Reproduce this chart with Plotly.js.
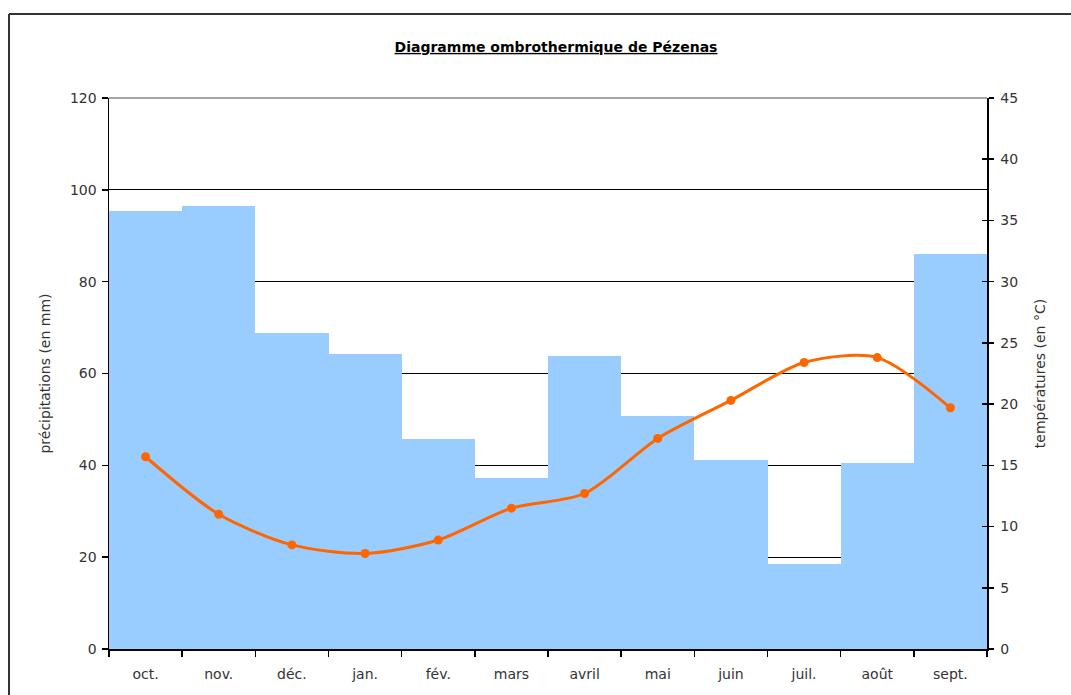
<!DOCTYPE html>
<html>
<head>
<meta charset="utf-8">
<script src="https://cdn.plot.ly/plotly-3.0.1.min.js"></script>
<style>html,body{margin:0;padding:0;background:#fff;}#chart{width:1071px;height:695px;}</style>
</head>
<body>
<div id="chart"></div>
<script>
const months = ["oct.","nov.","déc.","jan.","fév.","mars","avril","mai","juin","juil.","août","sept."];
const precipitations = [95.4, 96.5, 68.8, 64.2, 45.7, 37.2, 63.8, 50.7, 41.2, 18.5, 40.5, 86.0];
const temperatures = [15.7, 11.0, 8.5, 7.8, 8.9, 11.5, 12.7, 17.2, 20.3, 23.4, 23.8, 19.7];
const leftTicks = [0, 20, 40, 60, 80, 100, 120];
const rightTicks = [0, 5, 10, 15, 20, 25, 30, 35, 40, 45];

const FONT = "DejaVu Sans, sans-serif";
const W = 1071, H = 695;
const L = 109, R = 84, T = 98, B = 46;
const pw = W - L - R, ph = H - T - B;
const px = x => (x - L) / pw;
const py = y => (H - B - y) / ph;

const traces = [
  {
    type: "bar", x: months, y: precipitations, yaxis: "y",
    marker: {color: "#99CCFF", line: {width: 0}},
    hoverinfo: "x+y", name: "précipitations"
  },
  {
    type: "scatter", mode: "lines+markers", x: months, y: temperatures, yaxis: "y2",
    line: {color: "#FF6600", width: 3, shape: "spline", smoothing: 0.8},
    marker: {color: "#FF6600", size: 9},
    name: "températures"
  },
  {
    type: "scatter", x: [months[0]], y: [0], yaxis: "y3", mode: "markers",
    marker: {opacity: 0}, hoverinfo: "skip", showlegend: false
  }
];

const layout = {
  width: W, height: H,
  margin: {l: L, r: R, t: T, b: B, pad: 0},
  paper_bgcolor: "#fff", plot_bgcolor: "#fff",
  showlegend: false,
  bargap: 0,
  font: {family: FONT, size: 14, color: "#333"},
  title: {
    text: "<b><u>Diagramme ombrothermique de Pézenas</u></b>",
    font: {family: FONT, size: 14, color: "#000"},
    x: px(556), xanchor: "center", xref: "paper", y: 1 - 47 / H, yanchor: "middle"
  },
  xaxis: {
    type: "category", tickson: "boundaries", ticks: "outside", ticklen: 6,
    tickcolor: "#000", tickwidth: 1.5,
    showline: true, linecolor: "#000", linewidth: 1.5,
    showgrid: false, zeroline: false,
    ticklabelstandoff: 12,
    tickfont: {family: FONT, size: 14, color: "#333"},
    range: [-0.5, 11.5], fixedrange: true
  },
  yaxis: {
    range: [0, 120], tickvals: leftTicks, ticktext: leftTicks.map(String),
    ticks: "outside", ticklen: 6, tickcolor: "#000", tickwidth: 1.5,
    showline: true, linecolor: "#000", linewidth: 1.5,
    showgrid: true, gridcolor: "#000", gridwidth: 1,
    zeroline: false, ticklabelstandoff: 2,
    tickfont: {family: FONT, size: 14, color: "#333"},
    title: {text: "précipitations (en mm)", font: {family: FONT, size: 14, color: "#333"}, standoff: 16}
  },
  yaxis2: {
    overlaying: "y", side: "right", range: [0, 45], tickvals: rightTicks,
    ticks: "outside", ticklen: 5, tickcolor: "#000", tickwidth: 1.5,
    showline: true, linecolor: "#000", linewidth: 1.5,
    showgrid: false, zeroline: false, ticklabelstandoff: 4,
    tickfont: {family: FONT, size: 14, color: "#333"},
    title: {text: "températures (en °C)", font: {family: FONT, size: 14, color: "#333"}, standoff: 18}
  },
  yaxis3: {
    overlaying: "y", side: "right", range: [0, 45], tickvals: rightTicks,
    ticks: "inside", ticklen: 5, tickcolor: "#000", tickwidth: 1.5,
    showticklabels: false, showline: false, showgrid: false, zeroline: false
  },
  shapes: [
    {type: "line", xref: "paper", yref: "paper", x0: 0, x1: 1, y0: 1, y1: 1,
     line: {color: "#888", width: 1.5}, layer: "above"},
    {type: "line", xref: "paper", yref: "paper", x0: px(9), x1: px(9), y0: py(14), y1: py(H + 5),
     line: {color: "#333", width: 2}},
    {type: "line", xref: "paper", yref: "paper", x0: px(9), x1: px(W + 5), y0: py(14), y1: py(14),
     line: {color: "#333", width: 2}}
  ]
};

Plotly.newPlot("chart", traces, layout, {displayModeBar: false, staticPlot: true});
</script>
</body>
</html>
